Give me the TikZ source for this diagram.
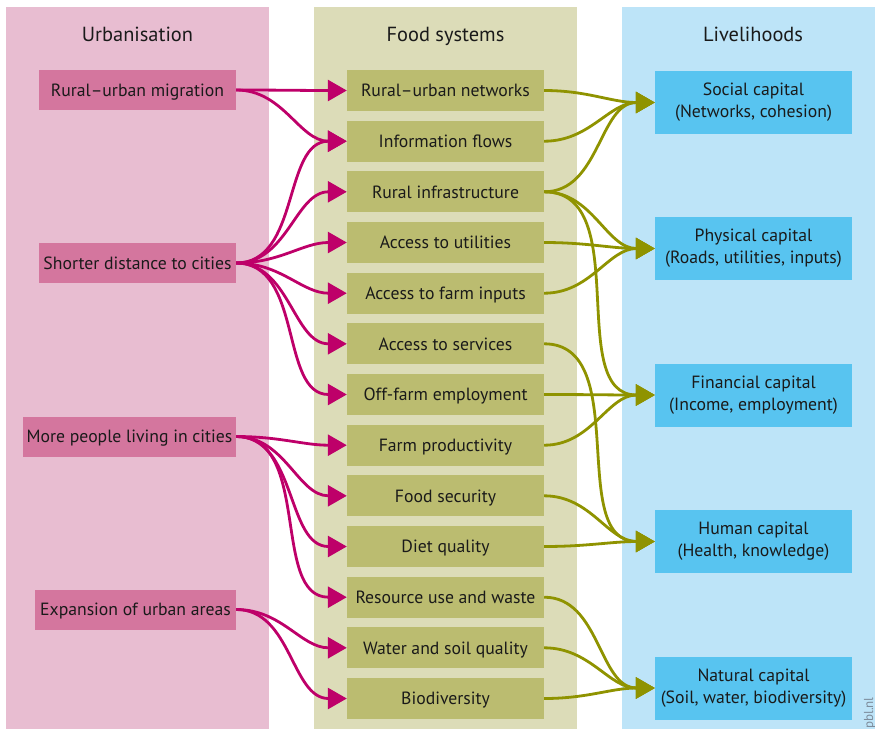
\documentclass[tikz,border=0pt]{standalone}
\usepackage{fontspec}
\setmainfont{PT Sans}
\usetikzlibrary{arrows.meta}
\definecolor{urbpanel}{RGB}{232,189,209}
\definecolor{urbbox}{RGB}{212,118,158}
\definecolor{urbline}{RGB}{190,0,105}
\definecolor{foodpanel}{RGB}{220,220,184}
\definecolor{foodbox}{RGB}{187,188,112}
\definecolor{foodline}{RGB}{143,147,0}
\definecolor{livpanel}{RGB}{189,228,248}
\definecolor{livbox}{RGB}{88,196,240}
\definecolor{txt}{RGB}{26,26,26}
\definecolor{credit}{RGB}{125,140,155}
\tikzset{
  boxtext/.style={font=\fontsize{17.7}{22}\selectfont, text=txt},
  urbnode/.style={boxtext, fill=urbbox, minimum height=40pt, inner sep=0pt, text height=12.4pt, text depth=0pt},
  foodnode/.style={boxtext, fill=foodbox, minimum width=197pt, minimum height=41pt, inner sep=0pt, text height=12.4pt, text depth=0pt},
  livnode/.style={boxtext, fill=livbox, minimum width=197pt, minimum height=63pt, inner sep=0pt, align=center},
  coltitle/.style={font=\fontsize{20.4}{24}\selectfont, text=txt, text height=14.3pt, text depth=0pt, inner sep=0pt},
  urbarrow/.style={draw=urbline, line width=2.8pt, -{Triangle[length=19pt,width=21pt]}},
  foodarrow/.style={draw=foodline, line width=2.8pt, -{Triangle[length=19pt,width=21pt]}},
}
\begin{document}
\begin{tikzpicture}[x=1pt,y=-1pt]
\useasboundingbox (0,0) rectangle (875,729);
% panels
\fill[urbpanel] (6,7) rectangle (269,729);
\fill[foodpanel] (314,7) rectangle (577,729);
\fill[livpanel] (622,7) rectangle (875,729);
% titles
\node[coltitle] (t1) at (137.5,34) {Urbanisation};
\node[coltitle] (t2) at (445.5,34) {Food systems};
\node[coltitle] (t3) at (753,34) {Livelihoods};
% urbanisation boxes
\node[urbnode, minimum width=197pt] (u1) at (137.5,90) {Rural–urban migration};
\node[urbnode, minimum width=197pt] (u2) at (137.5,263) {Shorter distance to cities};
\node[urbnode, minimum width=213pt] (u3) at (129.5,436.5) {More people living in cities};
\node[urbnode, minimum width=201pt] (u4) at (135.5,609.5) {Expansion of urban areas};
% food system boxes
\node[foodnode] (f1) at (445.5,90.5) {Rural–urban networks};
\node[foodnode] (f2) at (445.5,141.2) {Information flows};
\node[foodnode] (f3) at (445.5,191.8) {Rural infrastructure};
\node[foodnode] (f4) at (445.5,242.5) {Access to utilities};
\node[foodnode] (f5) at (445.5,293.2) {Access to farm inputs};
\node[foodnode] (f6) at (445.5,343.8) {Access to services};
\node[foodnode] (f7) at (445.5,394.5) {Off-farm employment};
\node[foodnode] (f8) at (445.5,445.2) {Farm productivity};
\node[foodnode] (f9) at (445.5,495.8) {Food security};
\node[foodnode] (f10) at (445.5,546.5) {Diet quality};
\node[foodnode] (f11) at (445.5,597.2) {Resource use and waste};
\node[foodnode] (f12) at (445.5,647.8) {Water and soil quality};
\node[foodnode] (f13) at (445.5,698.5) {Biodiversity};
% livelihood boxes
\node[livnode] (l1) at (753.5,102.5) {Social capital\\(Networks, cohesion)};
\node[livnode] (l2) at (753.5,248.5) {Physical capital\\(Roads, utilities, inputs)};
\node[livnode] (l3) at (753.5,395) {Financial capital\\(Income, employment)};
\node[livnode] (l4) at (753.5,541.5) {Human capital\\(Health, knowledge)};
\node[livnode] (l5) at (753.5,688) {Natural capital\\(Soil, water, biodiversity)};
% urbanisation -> food systems
\foreach \s/\t in {u1/f1,u1/f2,u2/f2,u2/f3,u2/f4,u2/f5,u2/f6,u2/f7,u3/f8,u3/f9,u3/f10,u3/f11,u4/f12,u4/f13}
  \draw[urbarrow] (\s.east) to[out=0,in=180] (\t.west);
% food systems -> livelihoods
\foreach \s/\t in {f1/l1,f2/l1,f3/l1,f3/l2,f3/l3,f4/l2,f5/l2,f6/l4,f7/l3,f8/l3,f9/l4,f10/l4,f11/l5,f12/l5,f13/l5}
  \draw[foodarrow] (\s.east) to[out=0,in=180] (\t.west);
% credit
\node[rotate=90, anchor=base east, inner sep=0pt, text=credit, font=\fontsize{13}{15}\selectfont] (cr) at (873,697) {pbl.nl};
\end{tikzpicture}
\end{document}
